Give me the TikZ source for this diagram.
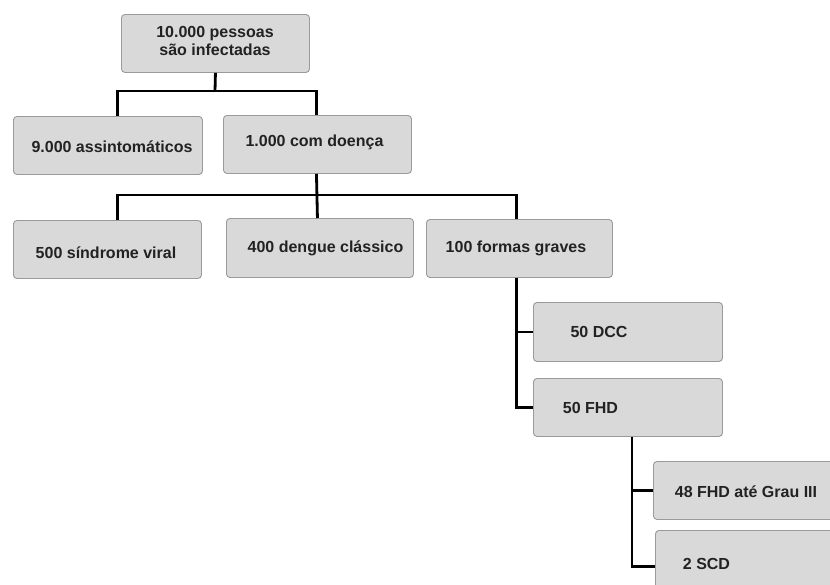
\documentclass[tikz,border=0pt]{standalone}
\usepackage{fontspec}
\setmainfont{Liberation Sans}
\begin{document}
\begin{tikzpicture}[x=1pt,y=-1pt,
  box/.style={draw=boxline, line width=0.9pt, fill=boxfill, rounded corners=3.5pt,
    inner sep=0pt, anchor=north west},
  txt/.style={inner sep=0pt, text=txtcol, font=\bfseries\fontsize{16}{18}\selectfont, align=center},
  link/.style={draw=black, line width=2.8pt}]
\definecolor{boxfill}{HTML}{D9D9D9}
\definecolor{boxline}{HTML}{9A9A9A}
\definecolor{txtcol}{HTML}{222222}
\useasboundingbox (0,0) rectangle (830,584);
\clip (0,0) rectangle (830,584);

% boxes (top-left corner, size)
\node[box, minimum width=188pt, minimum height=58pt] (top) at (121,14) {};
\node[box, minimum width=189pt, minimum height=58pt] (asx) at (13,116) {};
\node[box, minimum width=188pt, minimum height=58pt] (dis) at (223,115) {};
\node[box, minimum width=188pt, minimum height=58pt] (sv)  at (13,220) {};
\node[box, minimum width=187pt, minimum height=59pt] (dc)  at (226,218) {};
\node[box, minimum width=186pt, minimum height=58pt] (fg)  at (426,219) {};
\node[box, minimum width=189pt, minimum height=59pt] (dcc) at (533,302) {};
\node[box, minimum width=189pt, minimum height=58pt] (fhd) at (533,378) {};
\node[box, minimum width=200pt, minimum height=58pt] (g3)  at (653,461) {};
\node[box, minimum width=200pt, minimum height=70pt] (scd) at (655,530) {};

% labels
\node[txt] (top-t) at (215,41)    {10.000 pessoas\\são infectadas};
\node[txt] (asx-t) at (112,147)   {9.000 assintomáticos};
\node[txt] (dis-t) at (314.5,142) {1.000 com doença};
\node[txt] (sv-t)  at (106,253)   {500 síndrome viral};
\node[txt] (dc-t)  at (325.5,248) {400 dengue clássico};
\node[txt] (fg-t)  at (516,248)   {100 formas graves};
\node[txt] (dcc-t) at (599,332)   {50 DCC};
\node[txt] (fhd-t) at (590.5,408) {50 FHD};
\node[txt] (g3-t)  at (746,492)   {48 FHD até Grau III};
\node[txt] (scd-t) at (706.5,564) {2 SCD};

% junction points of the tree
\coordinate (j1) at (215,91);
\coordinate (j2) at (316,195);

% first level
\draw[link] (top.south) -- (j1);
\draw[link] ([xshift=9.5pt]asx.north) |- (j1) -| ([xshift=-1pt]dis.north);

% second level
\draw[link] ([xshift=-1pt]dis.south) -- ([xshift=-2.5pt]dc.north);
\draw[link] ([xshift=10pt]sv.north) |- (j2) -| ([xshift=-3pt]fg.north);

% severe forms
\draw[link] ([xshift=-3pt]fg.south) |- (fhd.west);
\draw[link] ([xshift=-3pt]fg.south |- dcc.west) -- (dcc.west);

% FHD split
\draw[link] ([xshift=-91pt]fhd.south east) |- ([yshift=-1pt]scd.west);
\draw[link] ([xshift=-91pt]fhd.south east |- g3.west) -- (g3.west);
\end{tikzpicture}
\end{document}
